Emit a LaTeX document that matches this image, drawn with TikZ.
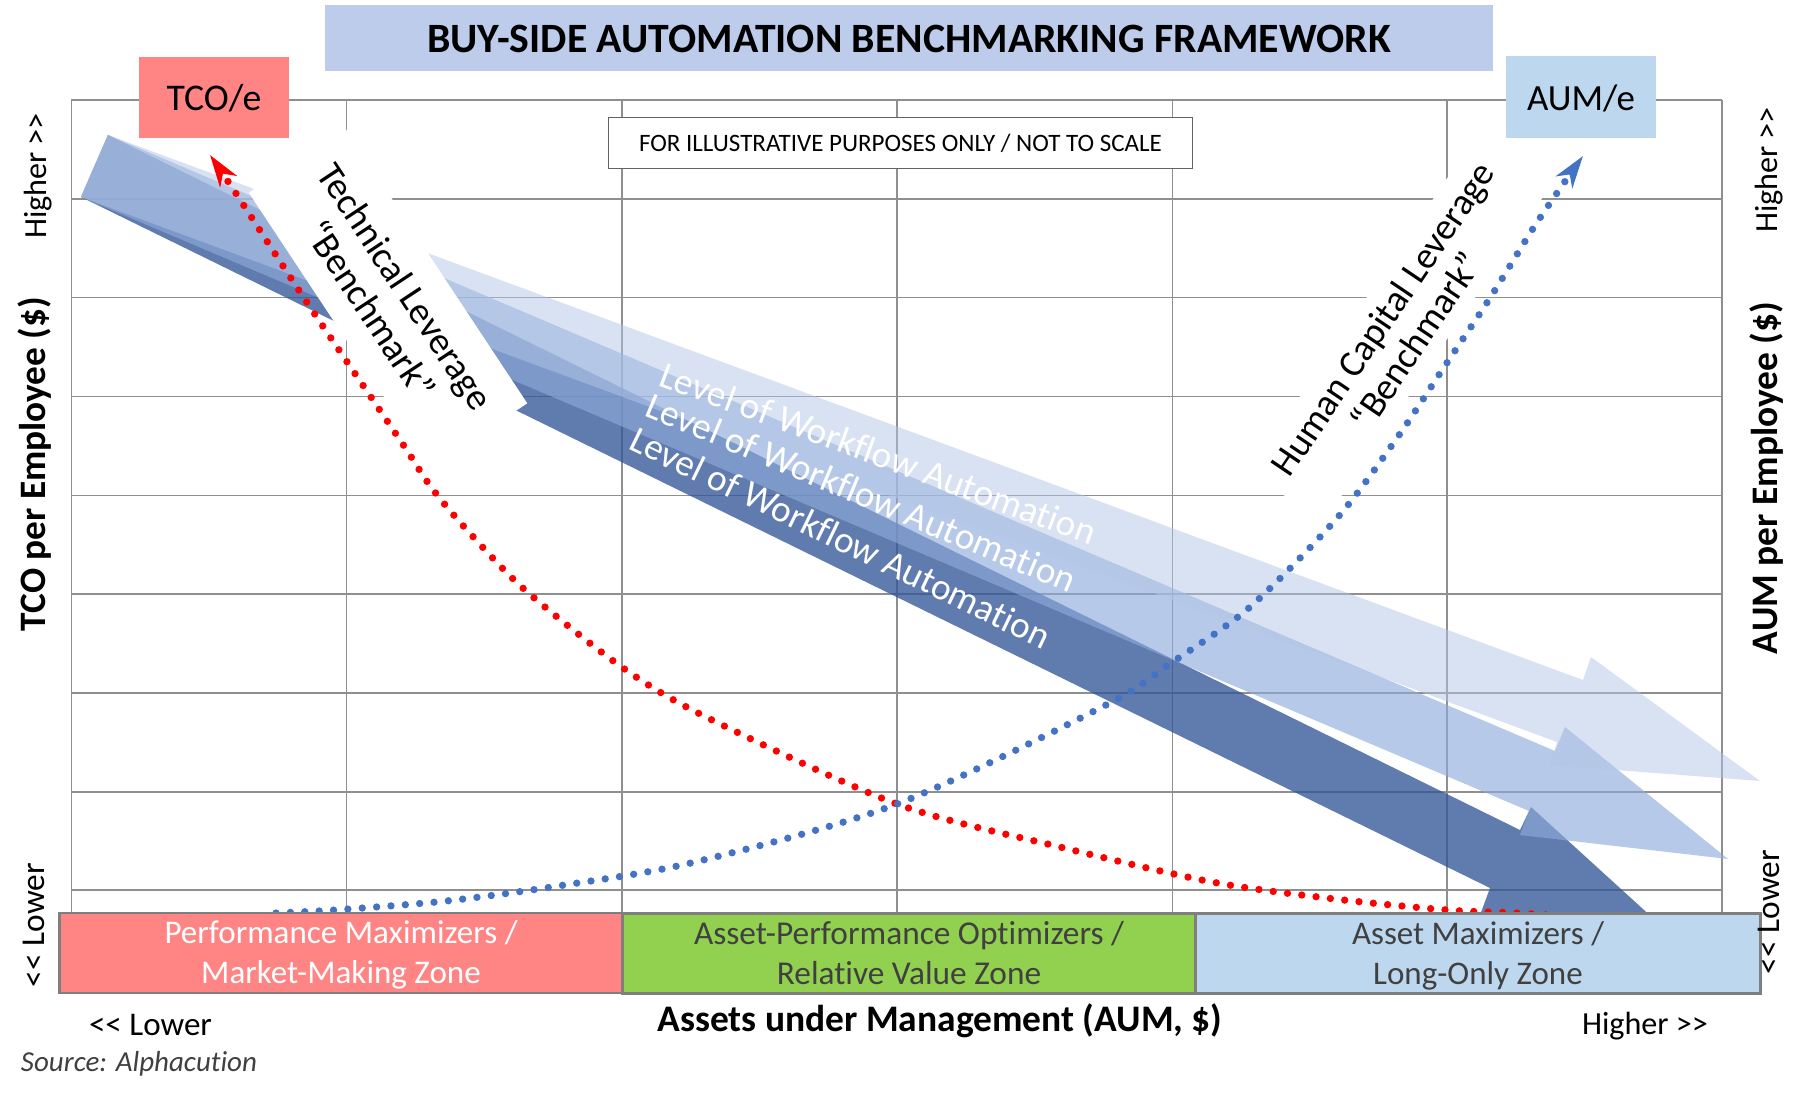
\documentclass[tikz,border=0pt]{standalone}
\usepackage{fontspec}
\setmainfont[Ligatures={NoCommon,TeXOff}]{Carlito}
\usetikzlibrary{arrows.meta}
\newlength\fitL
% font sized so that the given text is #1 reference pixels wide; #3 is the line pitch in pixels
\newcommand\fitfont[3]{\settowidth\fitL{\fontsize{20}{24}\selectfont #2}%
  \pgfmathsetmacro\fitS{(#1*0.75/\fitL)*20}\pgfmathsetmacro\fitB{#3*0.75}%
  \fontsize{\fitS}{\fitB}\selectfont}
\newcommand\firstline{\rule{0pt}{20pt}}
\newcommand\lastline{\rule[-3pt]{0pt}{3pt}}
\definecolor{gridc}{HTML}{8F8F8F}
\definecolor{edgec}{HTML}{7F7F7F}
\definecolor{notec}{HTML}{636363}
\definecolor{pinkc}{HTML}{FF8585}
\definecolor{greenc}{HTML}{92D050}
\definecolor{skyc}{HTML}{BDD7EE}
\definecolor{titlec}{HTML}{BCCCEA}
\definecolor{textc}{HTML}{404040}
\definecolor{arrowa}{HTML}{B4C6E7}
\definecolor{arrowb}{HTML}{8EAADB}
\definecolor{arrowc}{HTML}{2F5496}
\definecolor{bluec}{HTML}{4472C4}
\tikzset{
  gridh/.style={draw=gridc,line width=1pt},
  gridv/.style={draw=gridc,line width=0.8pt},
  labelbox/.style={inner sep=0pt,outer sep=0pt},
  zonebox/.style={draw=edgec,line width=2.2pt,inner sep=0pt,align=center,minimum height=60pt},
  benchbox/.style={fill=white,inner sep=0pt,align=center,text=black},
  flowlabel/.style={inner sep=0pt,anchor=base west,text=white},
  sidelabel/.style={inner sep=0pt,rotate=90,text=black},
  dotcurve/.style={draw=#1,line width=5.5pt,line cap=round,dash pattern=on 0pt off 10.8pt,
    -{Stealth[length=24pt,width=15pt,inset=7pt,fill=#1]}},
}
\begin{document}
\begin{tikzpicture}[x=0.75pt,y=-0.75pt]
\useasboundingbox (0,0) rectangle (1806,1098);
\fill[white] (0,0) rectangle (1806,1098);
% grid
\foreach \yy in {100,199,297.5,396.5,495.5,594,693,792,890}
  \draw[gridh] (71.4,\yy) -- (1722,\yy);
\foreach \xx in {71.4,346.7,622,897,1172.5,1447,1722}
  \draw[gridv] (\xx,100) -- (\xx,913);
% fan of automation arrows
\fill[arrowc,fill opacity=0.76] (108,135) -- (1520,830) -- (1531,807) -- (1700,961) -- (1480,915) -- (1490,888) -- (81,197) -- cycle;
\fill[arrowb,fill opacity=0.63] (108,135) -- (1555,751) -- (1565,727) -- (1728,859) -- (1520,835) -- (1529,811) -- (81,197) -- cycle;
\fill[arrowa,fill opacity=0.5] (108,135) -- (1583,680) -- (1591,657) -- (1760,781) -- (1550,765) -- (1557,742) -- (81,197) -- cycle;
\node[flowlabel,rotate=-20.3,font=\fitfont{462}{Level of Workflow Automation}{30}] (flowa) at (657,385) {Level of Workflow Automation};
\node[flowlabel,rotate=-22.7,font=\fitfont{462}{Level of Workflow Automation}{30}] (flowb) at (643,415) {Level of Workflow Automation};
\node[flowlabel,rotate=-25.9,font=\fitfont{462}{Level of Workflow Automation}{30}] (flowc) at (627,448) {Level of Workflow Automation};
% white benchmark labels
\node[benchbox,rotate=-56.5,minimum width=247pt,minimum height=87pt,font=\fitfont{286}{Technical Leverage}{42}] (techbox) at (388,298) {Technical Leverage\\“Benchmark”};
\node[benchbox,rotate=56,minimum width=302pt,minimum height=67.5pt,font=\fitfont{369}{Human Capital Leverage}{40}] (humanbox) at (1399,330) {Human Capital Leverage\\“Benchmark”};
% dotted curves
\coordinate (redstart) at (1560,916);
\coordinate (redtip) at (210,155);
\draw[dotcurve=red] plot[smooth,tension=0.5] coordinates {(redstart) (1517,913) (1447,910) (1335,899) (1212,882) (1060,847) (897,804) (708,718) (623,668) (525,590) (467,530) (431,487) (400,440) (306,301) (237,195) (redtip)};
\coordinate (bluestart) at (276,913);
\coordinate (bluetip) at (1583,156);
\draw[dotcurve=bluec] plot[smooth,tension=0.5] coordinates {(bluestart) (335,910) (446,901) (558,886) (695,862) (897,804) (1106,705) (1172.5,662) (1250,607) (1338,517) (1397,438) (1443.5,368) (1490,298) (1534,227) (1566,180) (bluetip)};
% title and corner boxes
\node[labelbox,fill=titlec,minimum width=1168pt*0.75,minimum height=66pt*0.75] (titlebox) at (909,38) {};
\node[labelbox,text=black,font=\bfseries\fitfont{964}{BUY-SIDE AUTOMATION BENCHMARKING FRAMEWORK}{48}] (title) at (909,39) {BUY-SIDE AUTOMATION BENCHMARKING FRAMEWORK};
\node[labelbox,fill=pinkc,minimum width=112.5pt,minimum height=60.75pt] (tco) at (214,97.5) {};
\node[labelbox,text=black,font=\fitfont{95}{TCO/e}{40}] (tcotext) at (214,98.5) {TCO/e};
\node[labelbox,fill=skyc,minimum width=112.5pt,minimum height=61.5pt] (aum) at (1581,97) {};
\node[labelbox,text=black,font=\fitfont{108}{AUM/e}{40}] (aumtext) at (1581,98) {AUM/e};
\node[labelbox,draw=notec,line width=1.1pt,fill=white,minimum width=438pt,minimum height=38pt,font=\fitfont{523}{FOR ILLUSTRATIVE PURPOSES ONLY / NOT TO SCALE}{30}] (note) at (900.5,143) {FOR ILLUSTRATIVE PURPOSES ONLY / NOT TO SCALE};
% zones
\node[zonebox,fill=greenc,text=textc,minimum width=430pt,font=\fitfont{430}{Asset-Performance Optimizers /}{40}] (zoneb) at (909,953.5) {\firstline Asset-Performance Optimizers /\\\lastline Relative Value Zone};
\node[zonebox,fill=skyc,text=textc,minimum width=424pt,font=\fitfont{252}{Asset Maximizers /}{40}] (zonec) at (1478,953.5) {\firstline Asset Maximizers /\\\lastline Long-Only Zone};
\node[zonebox,fill=pinkc,text=white,minimum width=422pt,font=\fitfont{353}{Performance Maximizers /}{40}] (zonea) at (341,953) {\firstline Performance Maximizers /\\\lastline Market-Making Zone};
% axis labels
\node[sidelabel,font=\fitfont{126}{Higher >>}{40}] (lh) at (38,176) {Higher >>};
\node[sidelabel,font=\fitfont{124}{<< Lower}{40}] (ll) at (34,925) {<< Lower};
\node[sidelabel,font=\fitfont{126}{Higher >>}{40}] (rh) at (1769,170) {Higher >>};
\node[sidelabel,font=\fitfont{124}{<< Lower}{40}] (rl) at (1769,912) {<< Lower};
\node[sidelabel,font=\bfseries\fitfont{334}{TCO per Employee (\$)}{40}] (ytco) at (35,464) {TCO per Employee (\$)};
\node[sidelabel,font=\bfseries\fitfont{352}{AUM per Employee (\$)}{40}] (yaum) at (1767,478) {AUM per Employee (\$)};
\node[labelbox,text=black,font=\bfseries\fitfont{565}{Assets under Management (AUM, \$)}{40}] (xaxis) at (940,1021) {Assets under Management (AUM, \$)};
\node[labelbox,text=black,font=\fitfont{123}{<< Lower}{40}] (xl) at (150.5,1025) {<< Lower};
\node[labelbox,text=black,font=\fitfont{126}{Higher >>}{40}] (xh) at (1645,1026) {Higher >>};
\node[labelbox,anchor=west,text=textc,font=\itshape\fitfont{236}{Source: Alphacution}{30}] (source) at (21,1064) {Source: Alphacution};
\end{tikzpicture}
\end{document}
